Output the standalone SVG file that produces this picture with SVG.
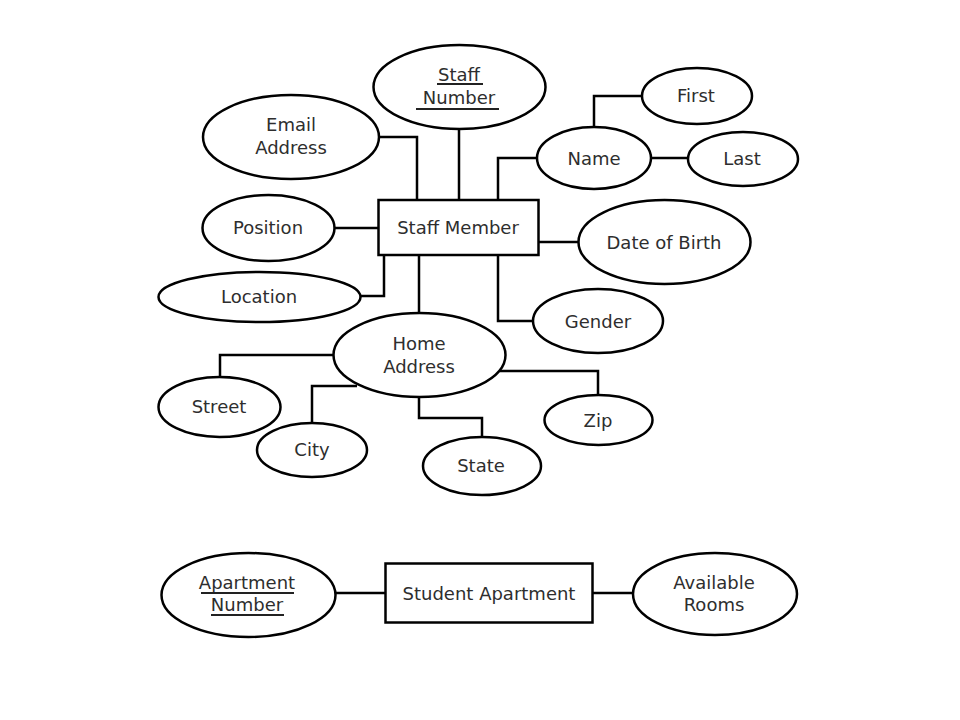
<svg xmlns="http://www.w3.org/2000/svg" width="960" height="720" viewBox="0 0 960 720">
<style>
.s{fill:#fff;stroke:#000;stroke-width:2.5}
.c{fill:none;stroke:#000;stroke-width:2.5}
.u{stroke:#222;stroke-width:2}
text{font-family:"DejaVu Sans","Liberation Sans",sans-serif;font-size:18px;fill:#2e2e2e;text-anchor:middle}
</style>
<rect width="960" height="720" fill="#fff"/>
<g id="connectors">
<polyline class="c" points="380,137 417,137 417,200"/>
<line class="c" x1="459" y1="129" x2="459" y2="200"/>
<line class="c" x1="334" y1="228" x2="378" y2="228"/>
<polyline class="c" points="361,296 384,296 384,255"/>
<line class="c" x1="419" y1="255" x2="419" y2="314"/>
<polyline class="c" points="498,200 498,158 538,158"/>
<polyline class="c" points="594,127 594,96 642,96"/>
<line class="c" x1="651" y1="158" x2="688" y2="158"/>
<line class="c" x1="539" y1="242" x2="579" y2="242"/>
<polyline class="c" points="498,255 498,321 533,321"/>
<polyline class="c" points="334,355 220,355 220,377"/>
<polyline class="c" points="312,423 312,386 357,386"/>
<polyline class="c" points="419,397 419,418 482,418 482,437"/>
<polyline class="c" points="500,371 598,371 598,395"/>
<line class="c" x1="335" y1="593" x2="385" y2="593"/>
<line class="c" x1="592" y1="593" x2="633" y2="593"/>
</g>
<g id="staff-member"><rect class="s" x="378.5" y="200" width="160" height="55"/><text x="458" y="234">Staff Member</text></g>
<g id="staff-number"><ellipse class="s" cx="459.5" cy="87" rx="86" ry="42"/><text x="459" y="81">Staff</text><line class="u" x1="437" y1="84" x2="483" y2="84"/><text x="459" y="104">Number</text><line class="u" x1="416" y1="109" x2="499" y2="109"/></g>
<g id="email-address"><ellipse class="s" cx="291" cy="137" rx="88" ry="42"/><text x="291" y="131">Email</text><text x="291" y="154">Address</text></g>
<g id="position"><ellipse class="s" cx="268.5" cy="228" rx="66" ry="33"/><text x="268" y="234">Position</text></g>
<g id="location"><ellipse class="s" cx="259.5" cy="297" rx="101" ry="25"/><text x="259" y="303">Location</text></g>
<g id="name"><ellipse class="s" cx="594" cy="158" rx="57" ry="31"/><text x="594" y="165">Name</text></g>
<g id="first"><ellipse class="s" cx="697" cy="96" rx="55" ry="28"/><text x="696" y="102">First</text></g>
<g id="last"><ellipse class="s" cx="743" cy="159" rx="55" ry="27"/><text x="742" y="165">Last</text></g>
<g id="date-of-birth"><ellipse class="s" cx="664.5" cy="242" rx="86" ry="42"/><text x="664" y="249">Date of Birth</text></g>
<g id="gender"><ellipse class="s" cx="598" cy="321" rx="65" ry="32"/><text x="598" y="328">Gender</text></g>
<g id="home-address"><ellipse class="s" cx="419.5" cy="355" rx="86" ry="42"/><text x="419" y="350">Home</text><text x="419" y="373">Address</text></g>
<g id="street"><ellipse class="s" cx="219.5" cy="407" rx="61" ry="30"/><text x="219" y="413">Street</text></g>
<g id="city"><ellipse class="s" cx="312" cy="450" rx="55" ry="27"/><text x="312" y="456">City</text></g>
<g id="state"><ellipse class="s" cx="482" cy="466" rx="59" ry="29"/><text x="481" y="472">State</text></g>
<g id="zip"><ellipse class="s" cx="598.5" cy="420" rx="54" ry="25"/><text x="598" y="427">Zip</text></g>
<g id="student-apartment"><rect class="s" x="385.5" y="563.5" width="207" height="59"/><text x="489" y="600">Student Apartment</text></g>
<g id="apartment-number"><ellipse class="s" cx="248.5" cy="595" rx="87" ry="42"/><text x="247" y="589">Apartment</text><line class="u" x1="201" y1="593" x2="294" y2="593"/><text x="247" y="611">Number</text><line class="u" x1="211" y1="615" x2="284" y2="615"/></g>
<g id="available-rooms"><ellipse class="s" cx="715" cy="594" rx="82" ry="41"/><text x="714" y="589">Available</text><text x="714" y="611">Rooms</text></g>
</svg>
